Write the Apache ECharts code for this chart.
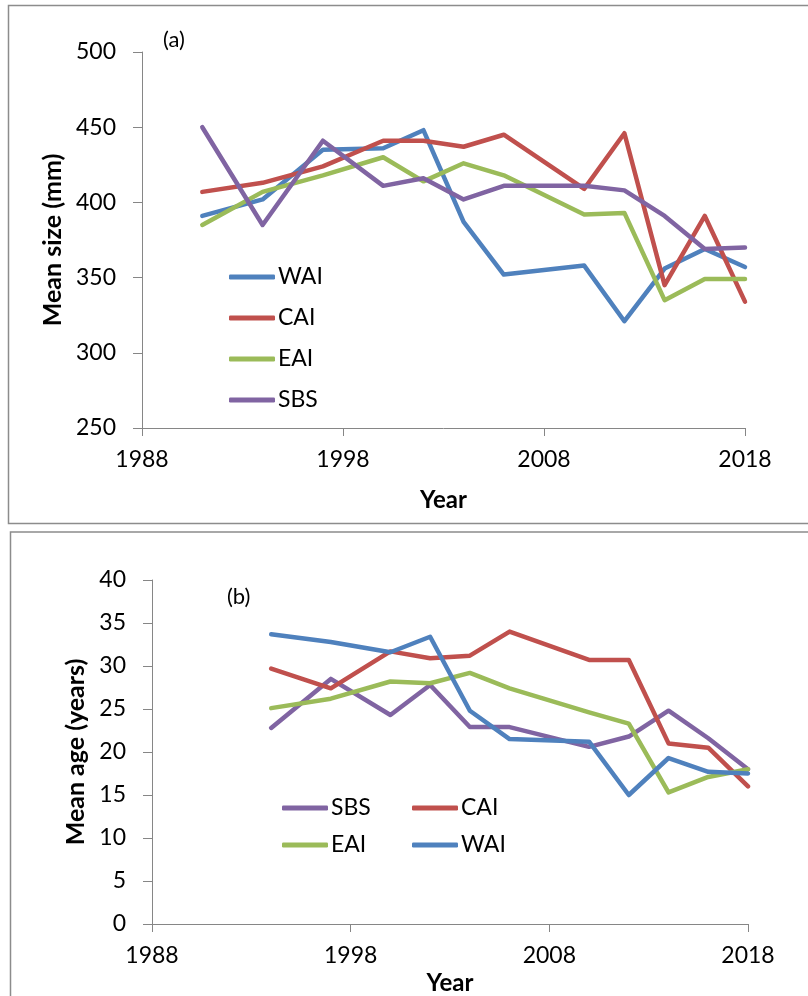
<!DOCTYPE html>
<html>
<head>
<meta charset="utf-8">
<script src="https://cdn.jsdelivr.net/npm/echarts@6/dist/echarts.min.js"></script>
<style>
html,body{margin:0;padding:0;background:#fff;}
#c{width:808px;height:996px;}
</style>
</head>
<body>
<div id="c"></div>
<script>
// Panel (a): mean size (mm)
var yearsA = [1991, 1994, 1997, 2000, 2002, 2004, 2006, 2010, 2012, 2014, 2016, 2018];
var waiSize = [391, 402, 435, 436, 448, 387, 352, 358, 321, 356, 369, 357];
var caiSize = [407, 413, 424, 441, 441, 437, 445, 409, 446, 345, 391, 334];
var eaiSize = [385, 407, 418, 430, 414, 426, 418, 392, 393, 335, 349, 349];
var sbsSize = [450, 385, 441, 411, 416, 402, 411, 411, 408, 391, 369, 370];

// Panel (b): mean age (years)
var yearsB = [1994, 1997, 2000, 2002, 2004, 2006, 2010, 2012, 2014, 2016, 2018];
var sbsAge = [22.8, 28.5, 24.3, 27.8, 22.9, 22.9, 20.6, 21.8, 24.8, 21.6, 18.0];
var caiAge = [29.7, 27.4, 31.7, 30.9, 31.2, 34.0, 30.7, 30.7, 21.0, 20.5, 16.0];
var eaiAge = [25.1, 26.2, 28.2, 28.0, 29.2, 27.4, 24.6, 23.3, 15.3, 17.1, 18.0];
var waiAge = [33.7, 32.8, 31.6, 33.4, 24.8, 21.5, 21.2, 15.0, 19.3, 17.7, 17.5];

var colors = {WAI: '#4F81BD', CAI: '#C0504D', EAI: '#9BBB59', SBS: '#8064A2'};
var FONT = 'Lato';
var axisGrey = '#868686';

function pairs(xs, ys) { return xs.map(function (x, i) { return [x, ys[i]]; }); }
function ser(name, xs, ys, idx) {
  return {
    name: name, type: 'line', xAxisIndex: idx, yAxisIndex: idx,
    data: pairs(xs, ys), symbol: 'none', silent: true,
    lineStyle: {color: colors[name], width: 4.5, cap: 'round', join: 'round'},
    itemStyle: {color: colors[name]}
  };
}
function xAx(gridIdx, nameGap) {
  return {
    type: 'value', gridIndex: gridIdx, min: 1988, max: 2018, interval: 10,
    name: 'Year', nameLocation: 'middle', nameGap: nameGap,
    nameTextStyle: {fontFamily: FONT, fontWeight: 'bold', fontSize: 24, color: '#000'},
    axisLine: {show: true, lineStyle: {color: axisGrey, width: 1}},
    axisTick: {show: true, length: 8, lineStyle: {color: axisGrey, width: 1}},
    axisLabel: {fontFamily: FONT, fontSize: 23, color: '#000', margin: 20,
      formatter: function (v) { return String(v); }},
    splitLine: {show: false}
  };
}
function yAx(gridIdx, min, max, interval, name, nameGap) {
  return {
    type: 'value', gridIndex: gridIdx, min: min, max: max, interval: interval,
    name: name, nameLocation: 'middle', nameGap: nameGap, nameRotate: 90,
    nameTextStyle: {fontFamily: FONT, fontWeight: 'bold', fontSize: 25, color: '#000'},
    axisLine: {show: true, lineStyle: {color: axisGrey, width: 1}},
    axisTick: {show: true, length: 9, lineStyle: {color: axisGrey, width: 1}},
    axisLabel: {fontFamily: FONT, fontSize: 23, color: '#000', margin: 26},
    splitLine: {show: false}
  };
}
function leg(names, left, top, orient, gap) {
  return {
    data: names, left: left, top: top, orient: orient, itemGap: gap,
    icon: 'roundRect', itemWidth: 46, itemHeight: 5, selectedMode: false,
    textStyle: {fontFamily: FONT, fontSize: 23, color: '#000', lineHeight: 24, padding: [0, 0, 0, -2]}
  };
}

var chart = echarts.init(document.getElementById('c'), null, {renderer: 'canvas'});
chart.setOption({
  animation: false,
  backgroundColor: '#fff',
  grid: [
    {left: 142, right: 63, top: 52, height: 376},
    {left: 152, right: 60, top: 580, height: 344}
  ],
  xAxis: [xAx(0, 60), xAx(1, 47)],
  yAxis: [
    yAx(0, 250, 500, 50, 'Mean size (mm)', 76),
    yAx(1, 0, 40, 5, 'Mean age (years)', 63)
  ],
  legend: [
    leg(['WAI', 'CAI', 'EAI', 'SBS'], 224, 260, 'vertical', 17),
    leg(['SBS'], 277, 791, 'horizontal', 10),
    leg(['CAI'], 407, 791, 'horizontal', 10),
    leg(['EAI'], 277, 828, 'horizontal', 10),
    leg(['WAI'], 407, 828, 'horizontal', 10)
  ],
  graphic: [
    {type: 'rect', shape: {x: 8.5, y: 5.5, width: 830, height: 518}, style: {fill: 'none', stroke: '#8c8c8c', lineWidth: 1.5}, z: -1},
    {type: 'rect', shape: {x: 10.5, y: 532, width: 830, height: 500}, style: {fill: 'none', stroke: '#8c8c8c', lineWidth: 1.5}, z: -1},
    {type: 'text', left: 163, top: 29, style: {text: '(a)', fontFamily: FONT, fontSize: 22, fill: '#000'}},
    {type: 'text', left: 227, top: 586, style: {text: '(b)', fontFamily: FONT, fontSize: 22, fill: '#000'}}
  ],
  series: [
    ser('WAI', yearsA, waiSize, 0),
    ser('CAI', yearsA, caiSize, 0),
    ser('EAI', yearsA, eaiSize, 0),
    ser('SBS', yearsA, sbsSize, 0),
    ser('SBS', yearsB, sbsAge, 1),
    ser('CAI', yearsB, caiAge, 1),
    ser('EAI', yearsB, eaiAge, 1),
    ser('WAI', yearsB, waiAge, 1)
  ]
});
</script>
</body>
</html>
